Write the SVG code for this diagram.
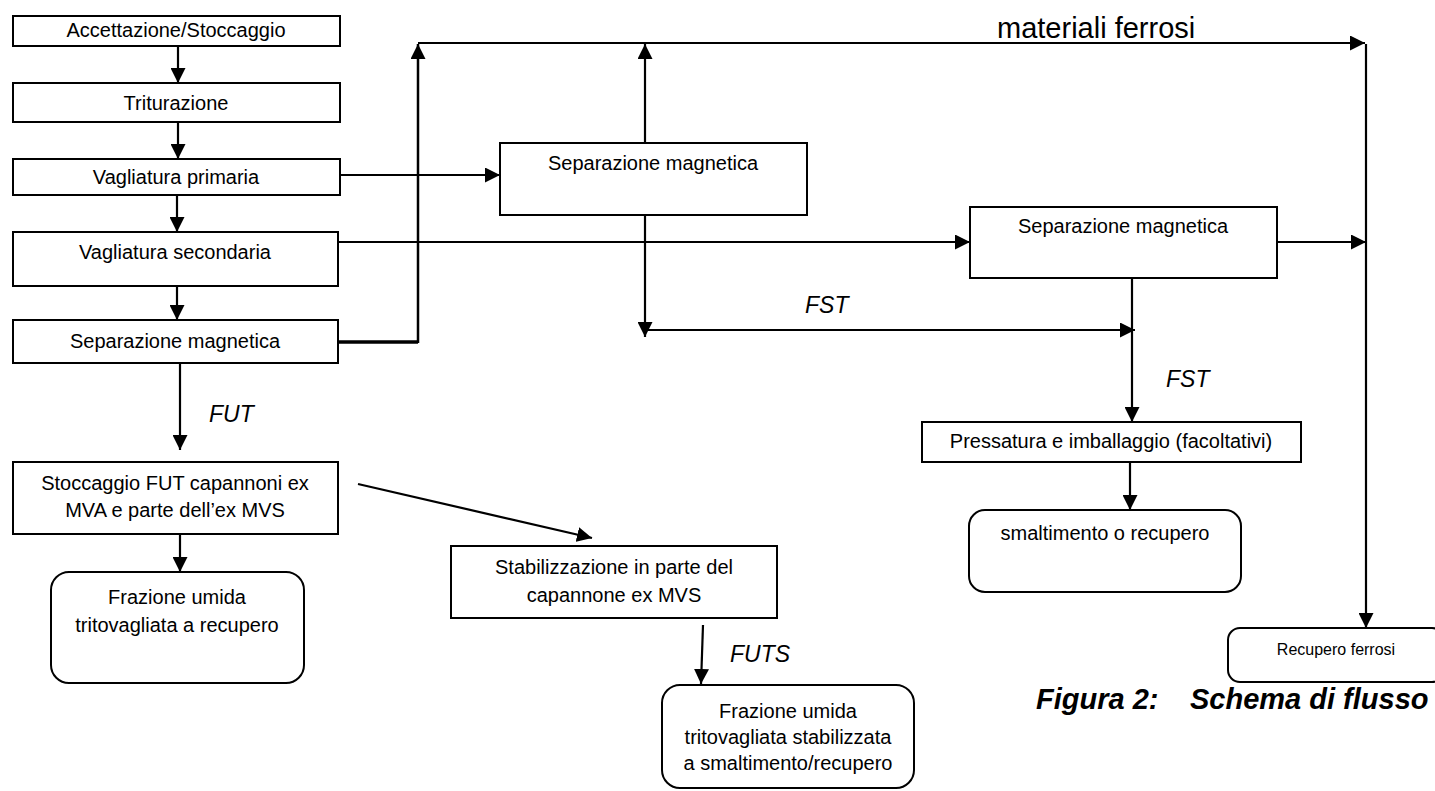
<svg xmlns="http://www.w3.org/2000/svg" width="1435" height="791" viewBox="0 0 1435 791">
<style>
.box{fill:#fff;stroke:#000;stroke-width:2}
.t{font-family:"Liberation Sans",Arial,sans-serif;font-size:20px;fill:#000;text-anchor:middle}
.lbl{font-family:"Liberation Sans",Arial,sans-serif;font-size:23px;font-style:italic;fill:#000}
.c{fill:none;stroke:#000;stroke-width:2.2}
</style>
<defs>
<marker id="ah" viewBox="0 0 15 15" refX="15" refY="7.5" markerWidth="15" markerHeight="15" markerUnits="userSpaceOnUse" orient="auto"><path d="M0,0 L15,7.5 L0,15 z" fill="#000"/></marker>
</defs>
<rect width="1435" height="791" fill="#fff"/>

<g id="connectors">
<path class="c" d="M178,46 V83" marker-end="url(#ah)"/>
<path class="c" d="M178,122 V159" marker-end="url(#ah)"/>
<path class="c" d="M177,195 V232" marker-end="url(#ah)"/>
<path class="c" d="M177,286 V320" marker-end="url(#ah)"/>
<path class="c" d="M180,363 V450" marker-end="url(#ah)"/>
<path class="c" d="M180,534 V572" marker-end="url(#ah)"/>
<path class="c" d="M340,175 H500" marker-end="url(#ah)"/>
<path class="c" d="M338,242 H970" marker-end="url(#ah)"/>
<path class="c" d="M338,342 H418" style="stroke-width:3.5"/>
<path class="c" d="M418,343 V44" marker-end="url(#ah)" style="stroke-width:2.5"/>
<path class="c" d="M418,43 H1365" marker-end="url(#ah)"/>
<path class="c" d="M645,143 V44" marker-end="url(#ah)"/>
<path class="c" d="M645,215 V337" marker-end="url(#ah)"/>
<path class="c" d="M645,330 H1135" marker-end="url(#ah)"/>
<path class="c" d="M1277,242 H1366" marker-end="url(#ah)"/>
<path class="c" d="M1366,44 V628" marker-end="url(#ah)"/>
<path class="c" d="M1132,277 V422" marker-end="url(#ah)"/>
<path class="c" d="M1130,462 V510" marker-end="url(#ah)"/>
<path class="c" d="M358,484 L592,538" marker-end="url(#ah)"/>
<path class="c" d="M703,625 L701,684" marker-end="url(#ah)"/>
<text class="lbl" x="997" y="38" style="font-style:normal;font-size:29px">materiali ferrosi</text>
<text class="lbl" x="805" y="313">FST</text>
<text class="lbl" x="1166" y="387">FST</text>
<text class="lbl" x="209" y="422">FUT</text>
<text class="lbl" x="730" y="662">FUTS</text>
</g>

<g id="n1"><rect class="box" x="13" y="16" width="327" height="30"/><text class="t" x="176" y="37">Accettazione/Stoccaggio</text></g>
<g id="n2"><rect class="box" x="13" y="83" width="327" height="39"/><text class="t" x="176" y="110">Triturazione</text></g>
<g id="n3"><rect class="box" x="13" y="159" width="327" height="36"/><text class="t" x="176" y="184">Vagliatura primaria</text></g>
<g id="n4"><rect class="box" x="13" y="232" width="325" height="54"/><text class="t" x="175" y="259">Vagliatura secondaria</text></g>
<g id="n5"><rect class="box" x="13" y="320" width="325" height="43"/><text class="t" x="175" y="348">Separazione magnetica</text></g>
<g id="n6"><rect class="box" x="13" y="462" width="325" height="72"/><text class="t" x="175" y="490">Stoccaggio FUT capannoni ex</text><text class="t" x="175" y="517">MVA e parte dell’ex MVS</text></g>
<g id="n7"><rect class="box" x="51" y="572" width="253" height="111" rx="18"/><text class="t" x="177" y="604">Frazione umida</text><text class="t" x="177" y="632">tritovagliata a recupero</text></g>
<g id="n8"><rect class="box" x="500" y="143" width="307" height="72"/><text class="t" x="653" y="170">Separazione magnetica</text></g>
<g id="n9"><rect class="box" x="970" y="207" width="307" height="71"/><text class="t" x="1123" y="233">Separazione magnetica</text></g>
<g id="n10"><rect class="box" x="451" y="546" width="326" height="72"/><text class="t" x="614" y="574">Stabilizzazione in parte del</text><text class="t" x="614" y="602">capannone ex MVS</text></g>
<g id="n11"><rect class="box" x="662" y="685" width="252" height="103" rx="18"/><text class="t" x="788" y="718">Frazione umida</text><text class="t" x="788" y="744">tritovagliata stabilizzata</text><text class="t" x="788" y="770">a smaltimento/recupero</text></g>
<g id="n12"><rect class="box" x="922" y="422" width="379" height="40"/><text class="t" x="1111" y="448">Pressatura e imballaggio (facoltativi)</text></g>
<g id="n13"><rect class="box" x="969" y="510" width="272" height="82" rx="16"/><text class="t" x="1105" y="540">smaltimento o recupero</text></g>
<g id="n14"><rect class="box" x="1228" y="628" width="216" height="54" rx="12"/><text class="t" x="1336" y="655" style="font-size:16px">Recupero ferrosi</text></g>
<g id="caption"><text y="709" style="font-family:'Liberation Sans',Arial,sans-serif;font-size:29px;font-weight:bold;font-style:italic"><tspan x="1036">Figura 2:</tspan><tspan x="1190">Schema di flusso</tspan></text></g>
</svg>
